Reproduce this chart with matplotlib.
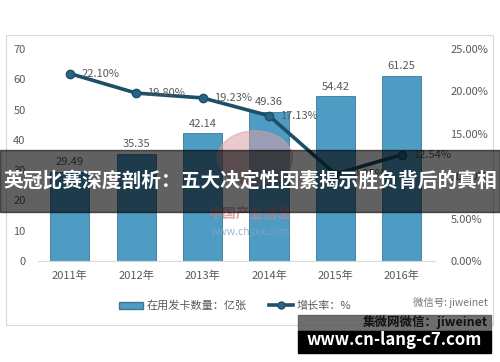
import matplotlib
matplotlib.use("Agg")
import matplotlib.pyplot as plt
from matplotlib.patches import Rectangle, Circle
from matplotlib.lines import Line2D
from matplotlib.patches import Patch

plt.rcParams['font.family'] = ['Noto Sans CJK SC', 'DejaVu Sans']

years = ['2011年', '2012年', '2013年', '2014年', '2015年', '2016年']
cards = [29.49, 35.35, 42.14, 49.36, 54.42, 61.25]
growth = [22.10, 19.80, 19.23, 17.13, 10.25, 12.54]
growth_labels = ['22.10%', '19.80%', '19.23%', '17.13%', '10.25%', '12.54%']
left_ticks = [0, 10, 20, 30, 40, 50, 60, 70]
right_ticks = [0, 5, 10, 15, 20, 25]

bar_col = '#4e9cc3'
line_col = '#1c4f68'
txt_col = '#595959'

fig = plt.figure(figsize=(5, 3.62), dpi=100)

# chart frame
fig.patches.append(Rectangle((6/500, 1-325/362), 487/500, 290/362, transform=fig.transFigure,
                             fill=False, edgecolor='#d9d9d9', linewidth=0.8))

ax = fig.add_axes([38/500, 1-261/362, 397/500, 212/362])
x = list(range(len(years)))
ax.bar(x, cards, width=0.59, color=bar_col, edgecolor='#3c7896', linewidth=0.6, zorder=2)
for i, v in enumerate(cards):
    ax.text(i, v + 1.5, f'{v:.2f}', ha='center', va='bottom', fontsize=8, color=txt_col)
ax.set_ylim(0, 70)
ax.set_xlim(-0.48, 5.5)
ax.set_yticks(left_ticks)
ax.set_xticks(x)
ax.set_xticklabels(years)
for s in ['top', 'right', 'left']:
    ax.spines[s].set_visible(False)
ax.spines['bottom'].set_color('#d9d9d9')
ax.tick_params(axis='both', length=0, labelsize=8, labelcolor=txt_col)
ax.tick_params(axis='y', pad=9)
ax.tick_params(axis='x', pad=7)

ax2 = ax.twinx()
ax2.plot(x, growth, color=line_col, linewidth=2.6, marker='o', markersize=6,
         markerfacecolor='#2a6585', markeredgecolor=line_col, zorder=3)
for i, g in enumerate(growth):
    ax2.text(i + 0.17, g, growth_labels[i], ha='left', va='center', fontsize=8, color=txt_col)
ax2.set_ylim(0, 25)
ax2.set_yticks(right_ticks)
ax2.set_yticklabels([f'{t:.2f}%' for t in right_ticks])
for s in ['top', 'right', 'left', 'bottom']:
    ax2.spines[s].set_visible(False)
ax2.tick_params(axis='y', length=0, labelsize=8, labelcolor=txt_col, pad=11)

# watermark
fig.patches.append(Circle((255/500, 1-158/362), 0.075, transform=fig.transFigure,
                          color='#d9a0a8', alpha=0.55, zorder=5))
fig.text(250/500, 1-214/362, '中国产业信息', ha='center', va='center', fontsize=10,
         color='#d98080', alpha=0.7, weight='bold')
fig.text(250/500, 1-232/362, 'www.chyxx.com', ha='center', va='center', fontsize=7.5,
         color='#7fa6c8', alpha=0.8)

# legend
handles = [Patch(facecolor=bar_col, edgecolor='#3c7896'),
           Line2D([], [], color=line_col, linewidth=2.6, marker='o', markersize=5,
                  markerfacecolor='#2a6585')]
fig.legend(handles, ['在用发卡数量：亿张', '增长率：%'], loc='center', bbox_to_anchor=(235/500, 1-306/362),
           ncol=2, frameon=False, fontsize=8, labelcolor=txt_col, handlelength=2.2,
           columnspacing=2.0, handletextpad=0.3)
fig.text(488/500, 1-303/362, '微信号: jiweinet', ha='right', va='center', fontsize=7.5, color='#777777')

# title overlay band
fig.patches.append(Rectangle((0, 1-212/362), 1, 62/362, transform=fig.transFigure,
                             color='black', alpha=0.62, zorder=10))
fig.text(250/500, 1-181/362, '英冠比赛深度剖析：五大决定性因素揭示胜负背后的真相', ha='center', va='center',
         fontsize=14.2, color='white', weight='bold', zorder=11)

# bottom right site box
fig.patches.append(Rectangle((298/500, 1-331/362), 193/500, 16/362, transform=fig.transFigure,
                             color='#555555', alpha=0.85, zorder=10))
fig.text(488/500, 1-322/362, '集微网微信：jiweinet', ha='right', va='center', fontsize=9,
         color='#111111', weight='bold', zorder=11)
fig.patches.append(Rectangle((298/500, 1-353/362), 193/500, 22/362, transform=fig.transFigure,
                             color='black', zorder=10))
fig.text(394/500, 1-340/362, 'www.cn-lang-c7.com', ha='center', va='center', fontsize=12,
         color='white', weight='bold', zorder=11)

fig.savefig('out.png', dpi=100)
